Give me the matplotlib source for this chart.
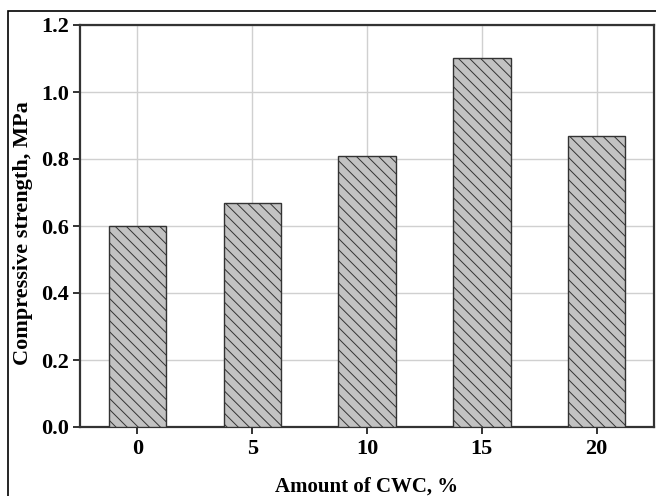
import matplotlib
matplotlib.use("Agg")
import matplotlib.pyplot as plt
from matplotlib.patches import Rectangle

# CWC amount (%) and compressive strength (MPa)
cwc = [0, 5, 10, 15, 20]
strength = [0.60, 0.67, 0.81, 1.10, 0.87]
yticks = [0.0, 0.2, 0.4, 0.6, 0.8, 1.0, 1.2]

plt.rcParams['font.family'] = ['Liberation Serif', 'DejaVu Serif']
plt.rcParams['font.weight'] = 'bold'
plt.rcParams['hatch.linewidth'] = 0.7
plt.rcParams['hatch.color'] = '#6e6e6e'

fig = plt.figure(figsize=(6.56, 4.96), dpi=100)
ax = fig.add_axes([80/656, 1 - 427/496, (654 - 80)/656, (427 - 25)/496])

ax.bar(cwc, strength, width=2.5, color='#c2c2c2', edgecolor='#333333',
       linewidth=1.0, hatch='\\\\\\', zorder=3)

ax.set_xlim(-2.5, 22.5)
ax.set_ylim(0, 1.2)
ax.set_xticks(cwc)
ax.set_yticks(yticks)
ax.set_yticklabels(['%.1f' % v for v in yticks])
ax.grid(True, color='#d0d0d0', linewidth=1.0, zorder=0)
ax.set_axisbelow(True)

for s in ax.spines.values():
    s.set_linewidth(1.6)
    s.set_color('#333333')
ax.tick_params(axis='both', direction='out', length=5, width=1.4, color='#333333',
               labelsize=16, pad=4)
ax.tick_params(axis='y', pad=3)

ax.set_xlabel('Amount of CWC, %', fontsize=15, fontweight='bold', labelpad=12)
ax.set_ylabel('Compressive strength, MPa', fontsize=16, fontweight='bold', labelpad=6)
ax.yaxis.label.set_y(0.483)

# outer frame around the picture
fig.patches.append(Rectangle((8/656, -0.1), 1.1, 1.1 - 11/496,
                             transform=fig.transFigure, fill=False,
                             edgecolor='black', linewidth=1.2, clip_on=False))

fig.savefig('out.png', dpi=100)
